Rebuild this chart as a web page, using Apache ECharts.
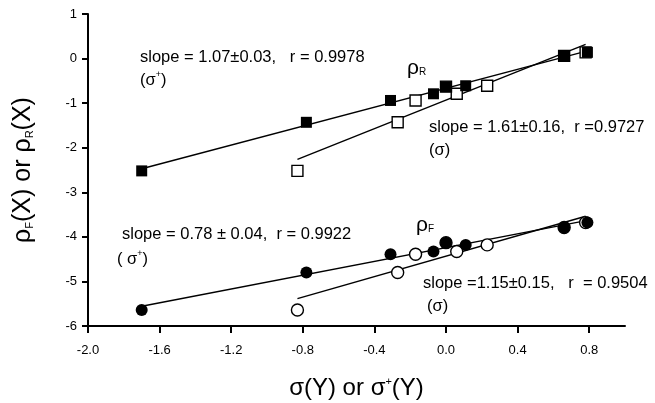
<!DOCTYPE html>
<html>
<head>
<meta charset="utf-8">
<script src="https://cdn.jsdelivr.net/npm/echarts@6/dist/echarts.min.js"></script>
<style>
  html, body { margin: 0; padding: 0; background: #fff; }
  #chart { width: 655px; height: 403px; }
</style>
</head>
<body>
<div id="chart"></div>
<script>
// substituents: NMe2, OMe, Me, F, H, Cl, CN, NO2
var sigmaPlus = [-1.7, -0.78, -0.31, -0.07, 0, 0.11, 0.66, 0.79];
var sigma = [-0.83, -0.27, -0.17, 0.06, 0, 0.23, 0.66, 0.78];
var rhoR = [-2.52, -1.43, -0.94, -0.79, -0.63, -0.61, 0.06, 0.14];
var rhoF = [-5.64, -4.80, -4.39, -4.33, -4.13, -4.18, -3.79, -3.68];
var xTicks = [-2.0, -1.6, -1.2, -0.8, -0.4, 0.0, 0.4, 0.8];

function pairs(xs, ys) {
  return xs.map(function (x, i) { return [x, ys[i]]; });
}

// least squares line across the x range of the data
function fitLine(xs, ys) {
  var n = xs.length, mx = 0, my = 0;
  for (var i = 0; i < n; i++) { mx += xs[i]; my += ys[i]; }
  mx /= n; my /= n;
  var sxy = 0, sxx = 0;
  for (var i = 0; i < n; i++) {
    sxy += (xs[i] - mx) * (ys[i] - my);
    sxx += (xs[i] - mx) * (xs[i] - mx);
  }
  var b = sxy / sxx, a = my - b * mx;
  var lo = Math.min.apply(null, xs), hi = Math.max.apply(null, xs);
  return [[lo, a + b * lo], [hi, a + b * hi]];
}

var font = 'Liberation Sans, Arial, sans-serif';
var lineStyle = { color: '#000', width: 1.4 };

function fit(xs, ys) {
  return { type: 'line', data: fitLine(xs, ys), symbol: 'none', lineStyle: lineStyle, z: 1, silent: true };
}
function filled(xs, ys, sym, size) {
  return { type: 'scatter', data: pairs(xs, ys), symbol: sym, symbolSize: size,
    itemStyle: { color: '#000', opacity: 1 }, z: 4 };
}
function open(xs, ys, sym, size) {
  return { type: 'scatter', data: pairs(xs, ys), symbol: sym, symbolSize: size,
    itemStyle: { color: '#fff', borderColor: '#000', borderWidth: 1.4, opacity: 1 }, z: 3 };
}

var rich = {
  sup: { fontSize: 9, fontFamily: font, padding: [0, 0, 10, 0] },
  sub: { fontSize: 10, fontFamily: font, padding: [9, 0, 0, 0] }
};

function label(x, y, text, size) {
  return { type: 'text', x: x, y: y,
    style: { text: text, fontSize: size || 16.5, fontFamily: font, fill: '#000',
      verticalAlign: 'middle', rich: rich } };
}

var chart = echarts.init(document.getElementById('chart'));
chart.setOption({
  animation: false,
  backgroundColor: '#fff',
  grid: { left: 88, right: 30, top: 14, bottom: 77, outerBoundsMode: 'none', containLabel: false },
  xAxis: {
    type: 'value', min: -2, max: 1, interval: 0.4,
    name: 'σ(Y) or σ{sup|+}(Y)', nameLocation: 'middle', nameGap: 50,
    nameTextStyle: { fontSize: 24, fontFamily: font, color: '#000',
      rich: { sup: { fontSize: 11, fontFamily: font, padding: [0, 0, 14, 0] } } },
    axisLine: { onZero: false, lineStyle: { color: '#000', width: 2 } },
    axisTick: { length: 7, customValues: xTicks, lineStyle: { color: '#000', width: 2 } },
    axisLabel: { customValues: xTicks, margin: 18, fontSize: 13, fontFamily: font, color: '#000',
      formatter: function (v) { return v.toFixed(1); } },
    splitLine: { show: false }
  },
  yAxis: {
    type: 'value', min: -6, max: 1, interval: 1,
    name: 'ρ{sub|F}(X) or ρ{sub|R}(X)', nameLocation: 'middle', nameGap: 52, nameRotate: 90,
    nameTextStyle: { fontSize: 25, fontFamily: font, color: '#000',
      rich: { sub: { fontSize: 11, fontFamily: font, padding: [12, 0, 0, 0] } } },
    axisLine: { onZero: false, lineStyle: { color: '#000', width: 2 } },
    axisTick: { length: 6, lineStyle: { color: '#000', width: 2 } },
    axisLabel: { margin: 11, fontSize: 13, fontFamily: font, color: '#000' },
    splitLine: { show: false }
  },
  series: [
    fit(sigmaPlus, rhoR),
    fit(sigma, rhoR),
    fit(sigmaPlus, rhoF),
    fit(sigma, rhoF),
    open(sigma, rhoR, 'rect', 11),
    filled(sigmaPlus, rhoR, 'rect', 11),
    open(sigma, rhoF, 'circle', 12),
    filled(sigmaPlus, rhoF, 'circle', 12)
  ],
  graphic: [
    label(140, 57, 'slope = 1.07±0.03,   r = 0.9978'),
    label(140, 80, '(σ{sup|+})'),
    label(407, 68, 'ρ{sub|R}', 21),
    label(429, 127, 'slope = 1.61±0.16,  r =0.9727'),
    label(429, 150, '(σ)'),
    label(122, 234, 'slope = 0.78 ± 0.04,  r = 0.9922'),
    label(117, 259, '( σ{sup|+})'),
    label(416, 225, 'ρ{sub|F}', 21),
    label(423, 283, 'slope =1.15±0.15,   r  = 0.9504'),
    label(427, 306, '(σ)')
  ]
});
</script>
</body>
</html>
